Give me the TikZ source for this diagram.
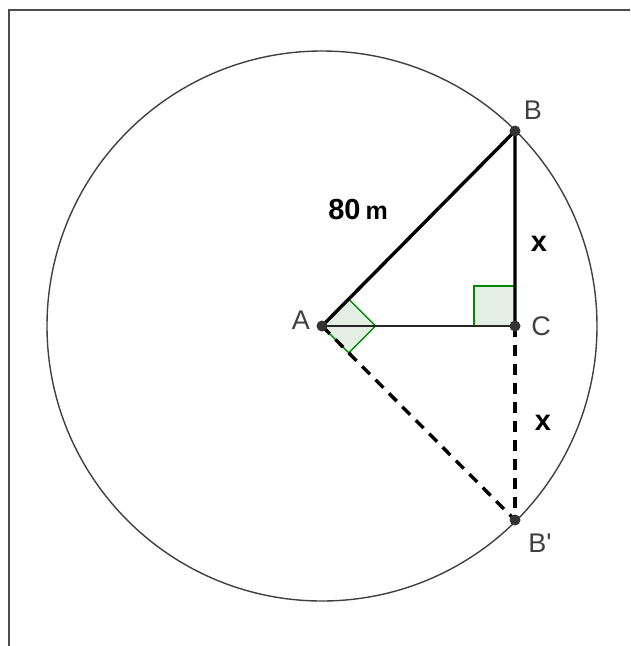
\documentclass[tikz,border=0pt]{standalone}
\usepackage{fontspec}
\setmainfont{Liberation Sans}
\newfontfamily\plainfont{Liberation Sans}
\usetikzlibrary{calc}
\begin{document}
\begin{tikzpicture}[x=1pt,y=-1pt,
  pt/.style={circle,fill=black!80,inner sep=0pt,minimum size=11pt},
  lbl/.style={font=\plainfont\fontsize{27}{30}\selectfont,text=black!75,inner sep=0pt},
  bold/.style={font=\fontsize{29}{32}\selectfont\bfseries,inner sep=0pt},
  thickl/.style={line width=3.4pt,black},
  thinl/.style={line width=1.8pt,black!85},
  ang/.style={draw=green!55!black,line width=1.4pt,fill=green!35!black!10}]
\useasboundingbox (0,0) rectangle (630,646);
\draw[line width=2.2pt,black!70] (9,646) -- (9,10) -- (630,10);
\coordinate (A) at (322,326);
\coordinate (B) at (515,131);
\coordinate (C) at (515,326);
\coordinate (Bp) at (515,520);
\draw[line width=1.4pt,black!75] (A) circle (275);
% right angle marks
\coordinate (P1) at ($(A)!38pt!(B)$);
\coordinate (P2) at ($(A)!38pt!(Bp)$);
\coordinate (P3) at ($(P1)+(P2)-(A)$);
\draw[ang] (A) -- (P1) -- (P3) -- (P2) -- cycle;
\coordinate (Q) at (474,286);
\draw[ang] (C) rectangle (Q);
\draw[thinl] (A) -- (C);
\draw[thickl] (A) -- (B) -- (C);
\draw[thickl,dash pattern=on 11pt off 8pt] (A) -- (Bp);
\draw[thickl,dash pattern=on 11pt off 8pt] (C) -- (Bp);
\node[pt] (nA) at (A) {};
\node[pt] (nB) at (B) {};
\node[pt] (nC) at (C) {};
\node[pt] (nBp) at (Bp) {};
\node[lbl] (lA) at (301,320) {A};
\node[lbl] (lB) at (533,110) {B};
\node[lbl] (lC) at (541,326) {C};
\node[lbl] (lBp) at (540,543) {B'};
\node[bold] (l80) at (358,210) {80\hspace{5pt}{\fontsize{25}{27}\selectfont m}};
\node[bold] (lx1) at (539,244) {x};
\node[bold] (lx2) at (543,423) {x};
\end{tikzpicture}
\end{document}
